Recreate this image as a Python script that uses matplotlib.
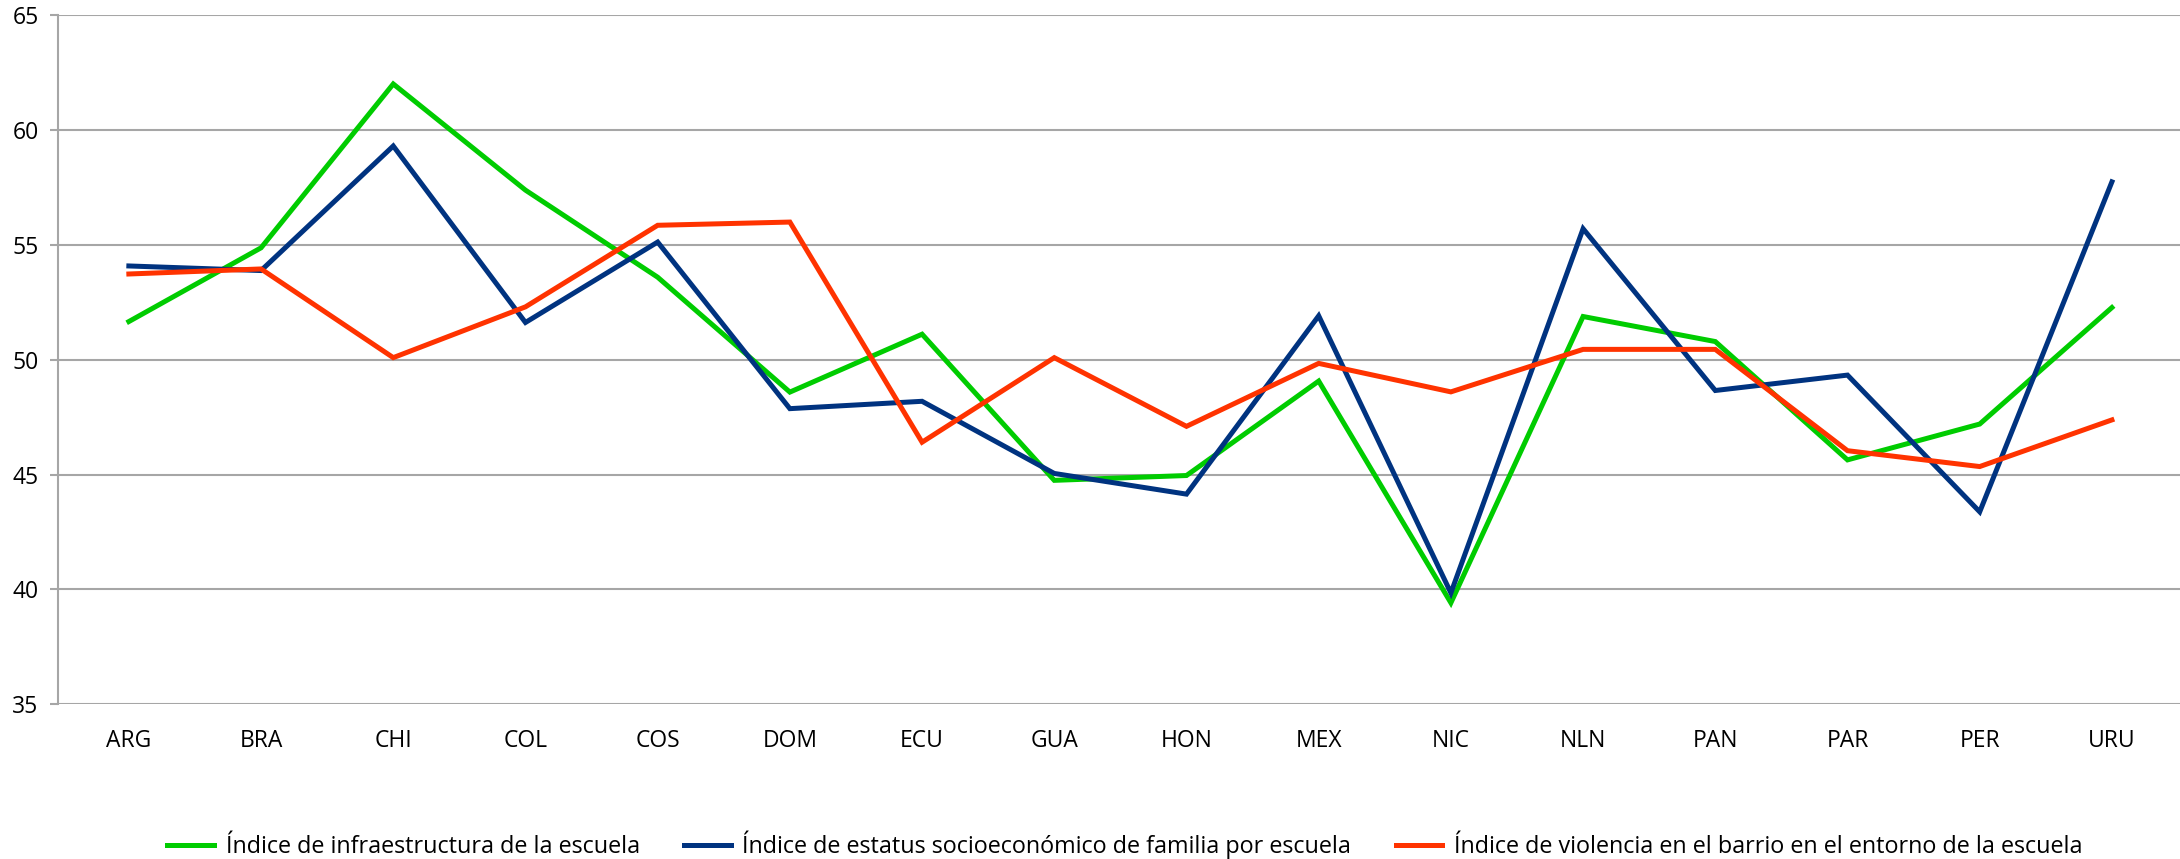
import matplotlib
matplotlib.use("Agg")
import matplotlib.pyplot as plt

categories = ["ARG", "BRA", "CHI", "COL", "COS", "DOM", "ECU", "GUA",
              "HON", "MEX", "NIC", "NLN", "PAN", "PAR", "PER", "URU"]
infraestructura = [51.66, 54.87, 62.0, 57.38, 53.59, 48.59, 51.11, 44.75,
                   44.96, 49.07, 39.42, 51.88, 50.79, 45.64, 47.20, 52.27]
socioeconomico = [54.08, 53.88, 59.30, 51.62, 55.12, 47.87, 48.19, 45.05,
                  44.15, 51.91, 39.85, 55.70, 48.66, 49.33, 43.38, 57.74]
violencia = [53.73, 53.95, 50.09, 52.30, 55.85, 55.99, 46.41, 50.09,
             47.10, 49.84, 48.60, 50.45, 50.45, 46.04, 45.35, 47.38]
labels = ["Índice de infraestructura de la escuela",
          "Índice de estatus socioeconómico de familia por escuela",
          "Índice de violencia en el barrio en el entorno de la escuela"]
yticks = [35, 40, 45, 50, 55, 60, 65]

plt.rcParams['font.family'] = ['Open Sans', 'DejaVu Sans']

fig = plt.figure(figsize=(21.8, 8.59), dpi=100)
ax = fig.add_axes([0.0266, 0.180, 0.9734, 0.8025])

x = list(range(len(categories)))
colors = ["#00CC00", "#003380", "#FF3300"]
for vals, c, lab in zip([infraestructura, socioeconomico, violencia], colors, labels):
    ax.plot(x, vals, color=c, lw=3.6, label=lab, solid_joinstyle='miter')

ax.set_xlim(-0.536, len(categories) - 1 + 0.515)
ax.set_ylim(35, 65)
ax.set_yticks(yticks)
ax.set_xticks(x)
ax.set_xticklabels(categories)
ax.yaxis.grid(True, color="#A6A6A6", lw=1.5)
ax.set_axisbelow(True)
for s in ["top", "right", "bottom"]:
    ax.spines[s].set_visible(False)
ax.spines["left"].set_color("#A6A6A6")
ax.spines["left"].set_linewidth(1.5)
ax.tick_params(axis='y', length=6, color="#A6A6A6", width=1.5, labelsize=16.5, pad=8)
ax.tick_params(axis='x', length=0, labelsize=16.5, pad=18)

fig.legend(loc="center", bbox_to_anchor=(0.516, 0.0163), ncol=3, frameon=False,
           fontsize=16.8, handlelength=2.0, handletextpad=0.5, columnspacing=1.9)

fig.savefig("out.png", dpi=100)
